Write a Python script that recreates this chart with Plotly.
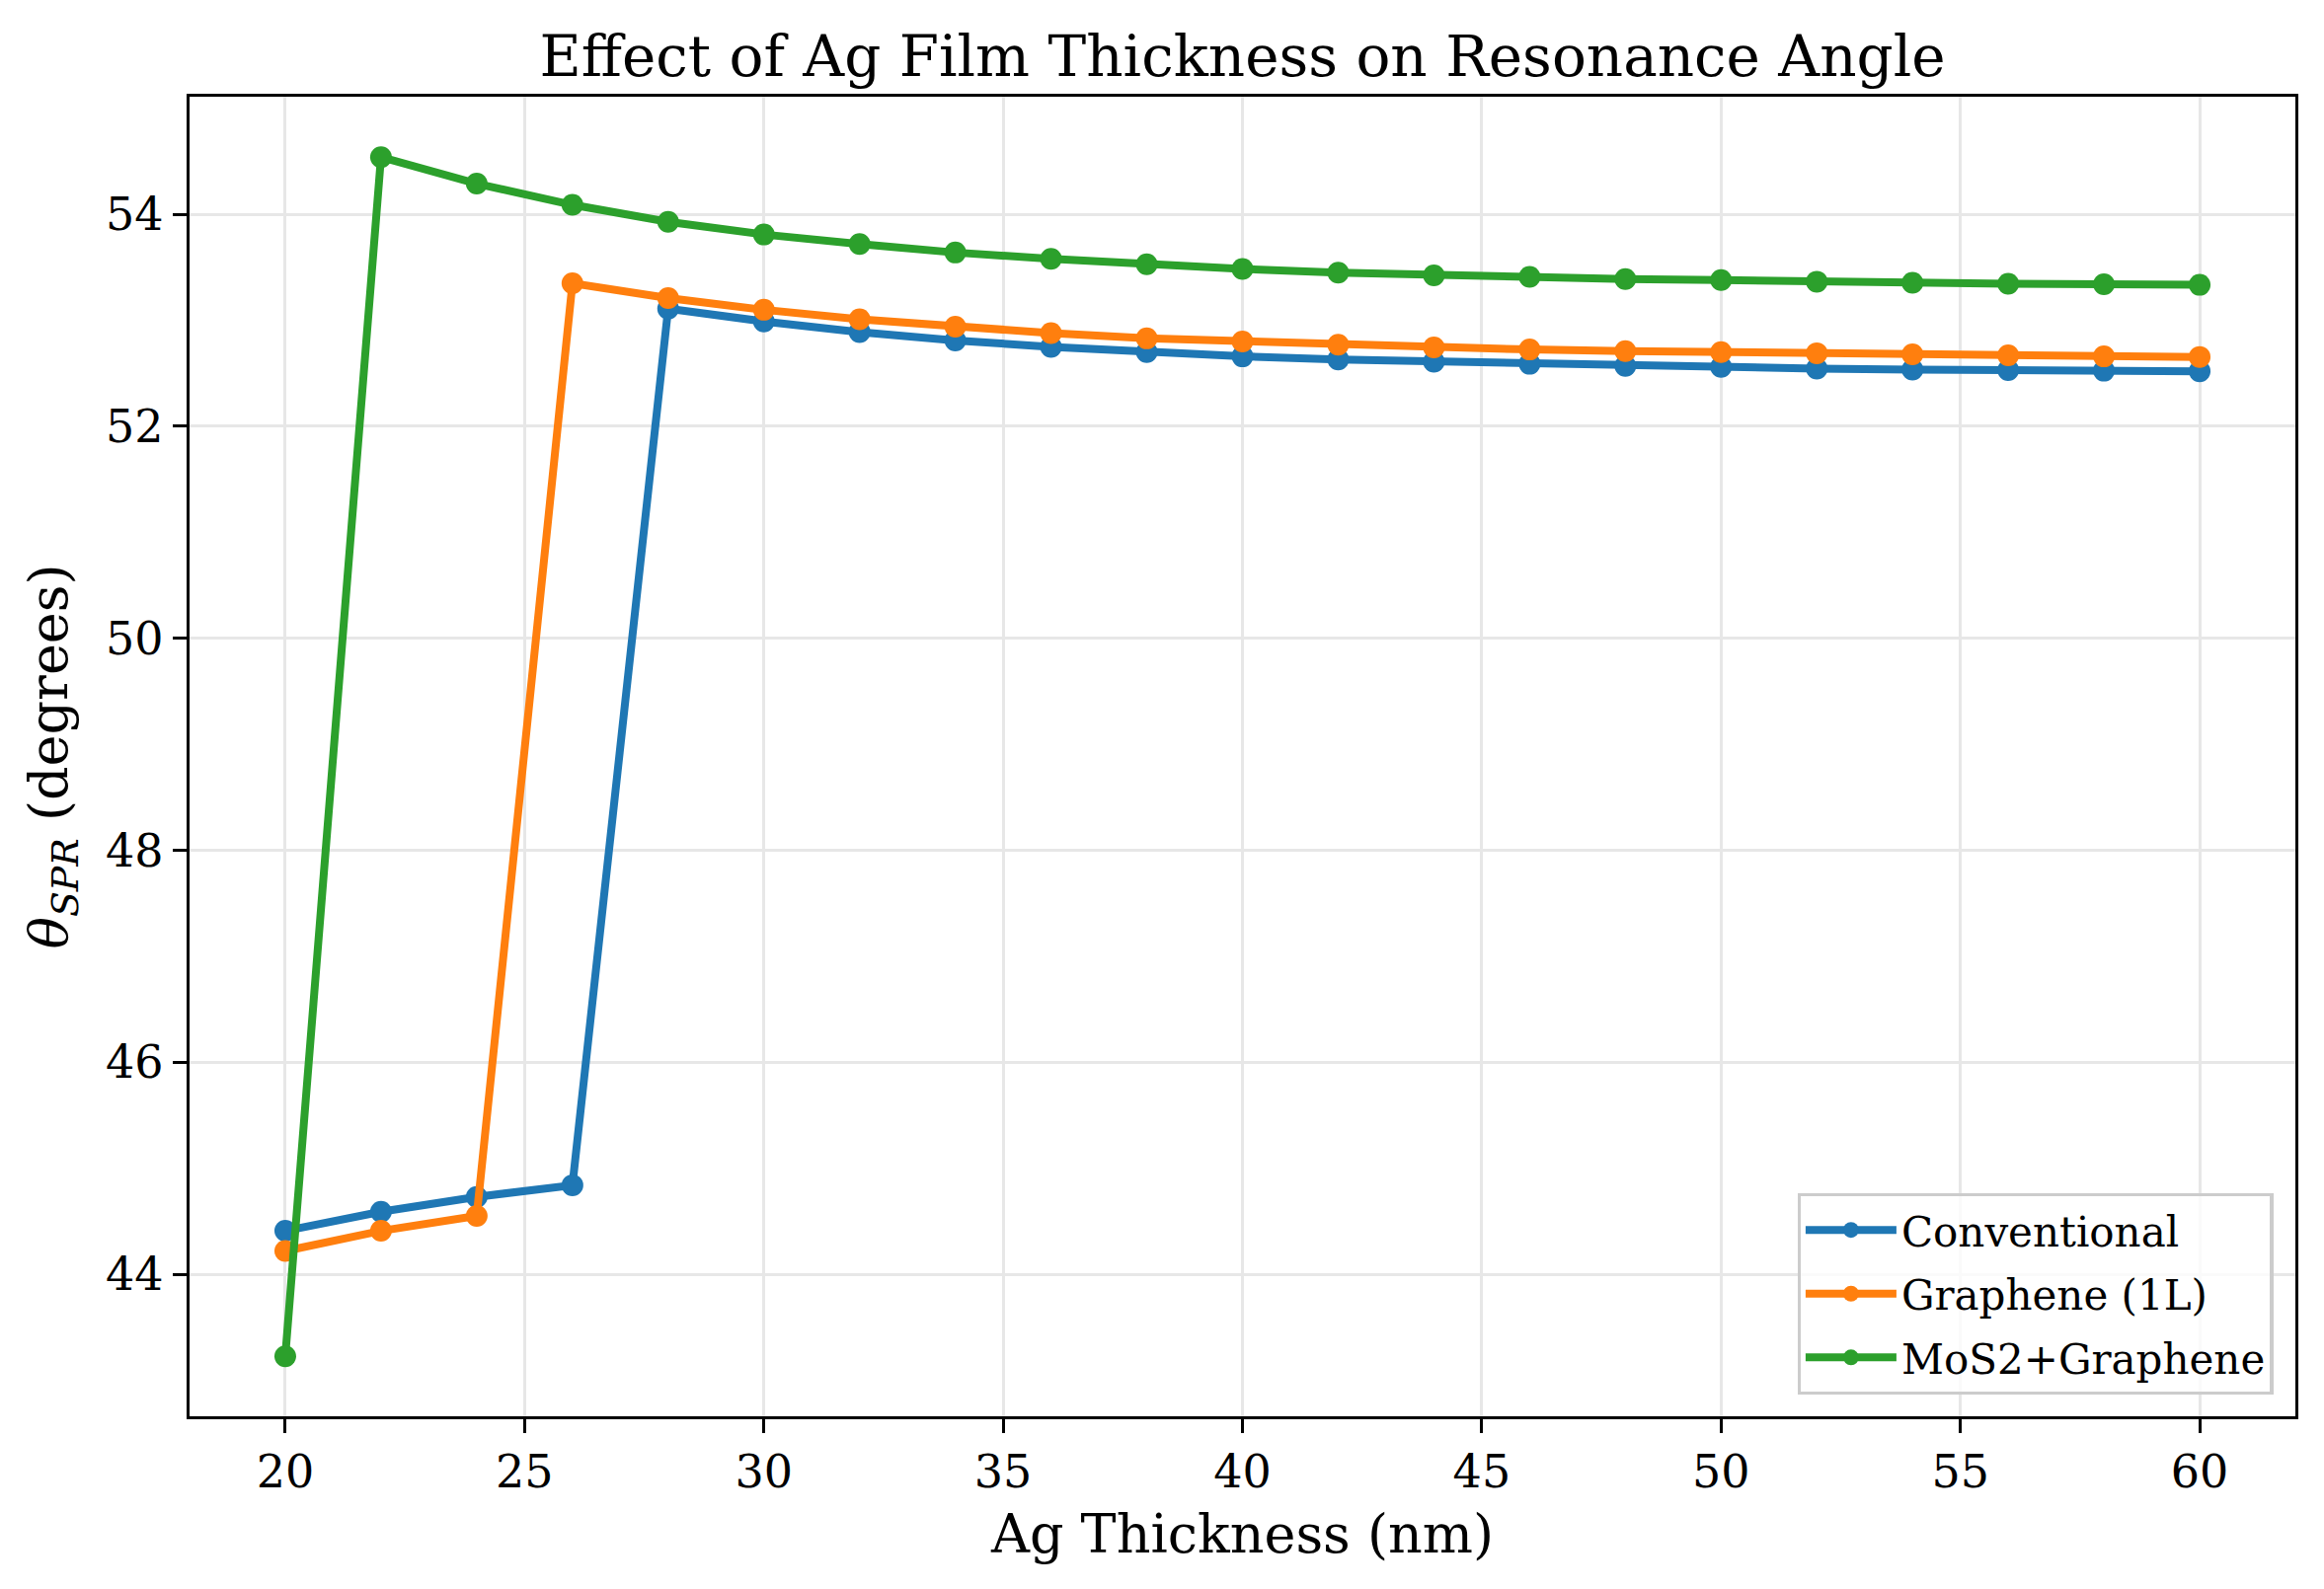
import plotly.graph_objects as go

thickness = [20, 22, 24, 26, 28, 30, 32, 34, 36, 38, 40, 42, 44, 46, 48, 50, 52, 54, 56, 58, 60]

conventional = [44.41, 44.59, 44.73, 44.84, 53.11, 52.99, 52.89, 52.81, 52.75, 52.70, 52.66,
                52.63, 52.61, 52.59, 52.57, 52.56, 52.545, 52.535, 52.53, 52.525, 52.52]
graphene_1l = [44.22, 44.41, 44.55, 53.35, 53.21, 53.10, 53.01, 52.94, 52.88, 52.83, 52.80,
               52.77, 52.745, 52.725, 52.71, 52.70, 52.69, 52.68, 52.67, 52.66, 52.655]
mos2_graphene = [43.225, 54.54, 54.29, 54.09, 53.93, 53.81, 53.72, 53.64, 53.58, 53.53, 53.485,
                 53.45, 53.425, 53.41, 53.39, 53.38, 53.365, 53.355, 53.345, 53.34, 53.335]

series_names = ["Conventional", "Graphene (1L)", "MoS2+Graphene"]
series_values = [conventional, graphene_1l, mos2_graphene]
series_colors = ["#1f77b4", "#ff7f0e", "#2ca02c"]

x_ticks = [20, 25, 30, 35, 40, 45, 50, 55, 60]
y_ticks = [44, 46, 48, 50, 52, 54]

FONT = "DejaVu Serif, Liberation Serif, serif"

fig = go.Figure()
for i, (name, vals, col) in enumerate(zip(series_names, series_values, series_colors)):
    fig.add_trace(go.Scatter(
        x=thickness, y=vals, name=name, mode="lines+markers",
        legendgroup=f"g{i}",
        line=dict(color=col, width=8),
        marker=dict(color=col, size=22, line=dict(width=0)),
    ))

axis_common = dict(
    showline=True, linecolor="black", linewidth=3.3, mirror=True,
    ticks="outside", ticklen=14, tickwidth=3.3, tickcolor="black",
    showgrid=True, gridcolor="#e7e7e7", gridwidth=3.3,
    zeroline=False,
    tickfont=dict(family=FONT, size=46, color="black"),
)

fig.update_layout(
    width=2354, height=1610,
    paper_bgcolor="white", plot_bgcolor="white",
    margin=dict(l=192, r=29, t=98, b=175),
    font=dict(family=FONT, color="black"),
    title=dict(
        text="Effect of Ag Film Thickness on Resonance Angle",
        font=dict(family=FONT, size=58, color="black"),
        x=(192 + 2325) / 2 / 2354, xanchor="center",
        y=1 - 57 / 1610, yanchor="middle",
    ),
    xaxis=dict(
        range=[18, 62], tickvals=x_ticks,
        title=dict(text="Ag Thickness (nm)", font=dict(family=FONT, size=54, color="black"), standoff=18),
        **axis_common,
    ),
    yaxis=dict(
        range=[42.66, 55.11], tickvals=y_ticks,
        title=dict(text="<i>θ</i><sub><i>SPR</i></sub> (degrees)", font=dict(family=FONT, size=54, color="black"), standoff=22),
        **axis_common,
    ),
    legend=dict(
        x=0.9895, y=0.0164, xanchor="right", yanchor="bottom",
        bgcolor="rgba(255,255,255,0.8)", bordercolor="#cccccc", borderwidth=3.3,
        font=dict(family=FONT, size=42, color="black"),
        itemwidth=92, tracegroupgap=7,
    ),
    showlegend=True,
)

fig.write_html("out.html")
